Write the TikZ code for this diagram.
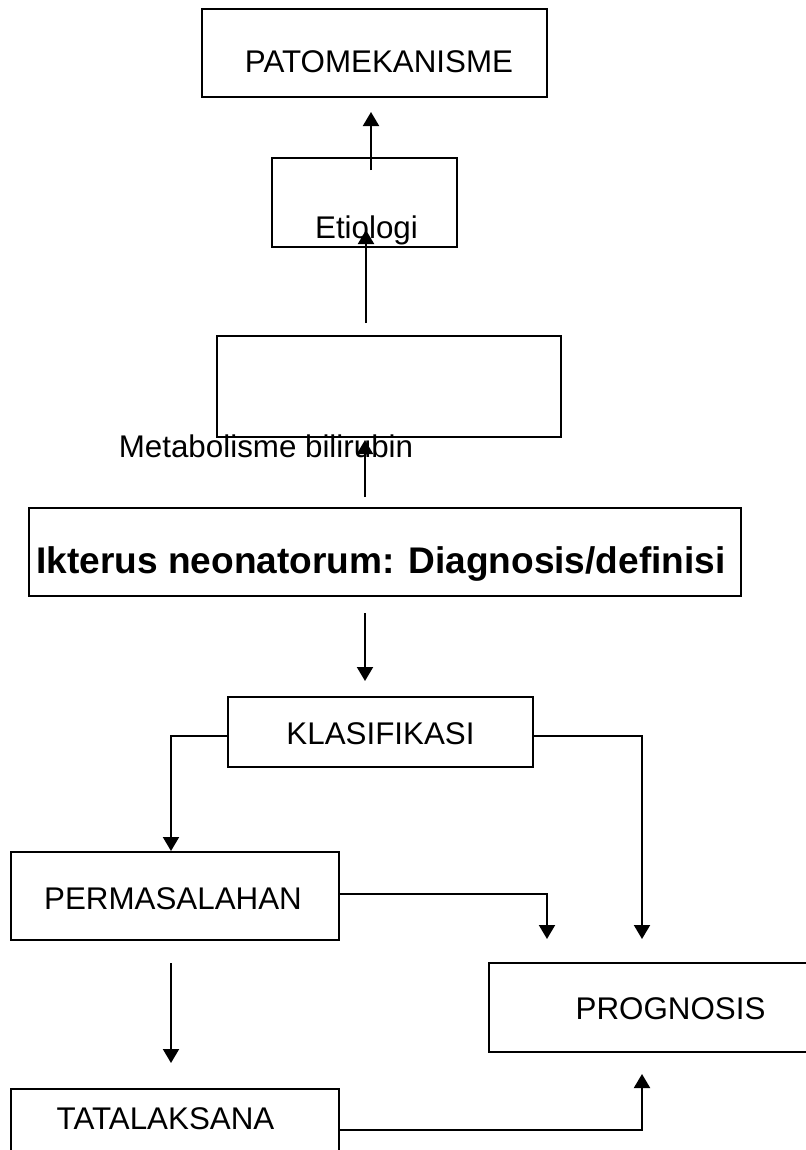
\documentclass[tikz,border=0pt]{standalone}
\usepackage{fontspec}
\setmainfont{Liberation Sans}
\usetikzlibrary{arrows.meta,fit}
\begin{document}
\begin{tikzpicture}[x=0.75pt,y=-0.75pt,
  box/.style={draw, line width=1.5pt, inner sep=0pt, rectangle},
  lbl/.style={inner sep=0pt, font=\fontsize{23.5pt}{28pt}\selectfont},
  blbl/.style={inner sep=0pt, font=\fontsize{27.8pt}{33pt}\selectfont\bfseries},
  arr/.style={line width=1.5pt, -{Triangle[width=12pt,length=10.5pt]}}]
\useasboundingbox (0,0) rectangle (806,1150);
\clip (0,0) rectangle (806,1150);
\fill[white] (0,0) rectangle (806,1150);
% boxes
\node[box, fit={(202,9) (547,97)}] (pato) {};
\node[box, fit={(272,158) (457,247)}] (etio) {};
\node[box, fit={(217,336) (561,437)}] (meta) {};
\node[box, fit={(29,508) (741,596)}] (ikt) {};
\node[box, fit={(228,697) (533,767)}] (klas) {};
\node[box, fit={(11,852) (339,940)}] (perm) {};
\node[box, fit={(11,1089) (339,1171)}] (tata) {};
\node[box, fit={(489,963) (812,1052)}] (prog) {};
% labels
\node[lbl, anchor=base] (patot) at (379,72) {PATOMEKANISME};
\node[lbl, anchor=base] (etiot) at (366.5,238) {Etiologi};
\node[lbl, anchor=base] (metat) at (266,457) {Metabolisme bilirubin};
\node[blbl, anchor=base] (iktt) at (381,573) {Ikterus neonatorum: Diagnosis/definisi};
\node[lbl, anchor=base] (klast) at (380.5,744) {KLASIFIKASI};
\node[lbl, anchor=base] (permt) at (173,909) {PERMASALAHAN};
\node[lbl, anchor=base] (tatat) at (165.5,1129) {TATALAKSANA};
\node[lbl, anchor=base] (progt) at (670.5,1019) {PROGNOSIS};
% free arrow ends
\coordinate (a1s) at (371,170); \coordinate (a1e) at (371,112);
\coordinate (a2s) at (366,323); \coordinate (a2e) at (366,230);
\coordinate (a3s) at (365,497); \coordinate (a3e) at (365,440);
\coordinate (a4s) at (365,613); \coordinate (a4e) at (365,681);
\coordinate (a5s) at (171,963); \coordinate (a5e) at (171,1063);
\coordinate (c1e) at (171,851);
\coordinate (c2e) at (642,939);
\coordinate (c3e) at (547,939);
\coordinate (c4e) at (642,1074);
% connectors
\draw[arr] (a1s) -- (a1e);
\draw[arr] (a2s) -- (a2e);
\draw[arr] (a3s) -- (a3e);
\draw[arr] (a4s) -- (a4e);
\draw[arr] (a5s) -- (a5e);
\draw[arr] ([yshift=-3pt]klas.west) -| (c1e);
\draw[arr] ([yshift=-3pt]klas.east) -| (c2e);
\draw[arr] ([yshift=1.5pt]perm.east) -| (c3e);
\draw[arr] (tata.east) -| (c4e);
\end{tikzpicture}
\end{document}
